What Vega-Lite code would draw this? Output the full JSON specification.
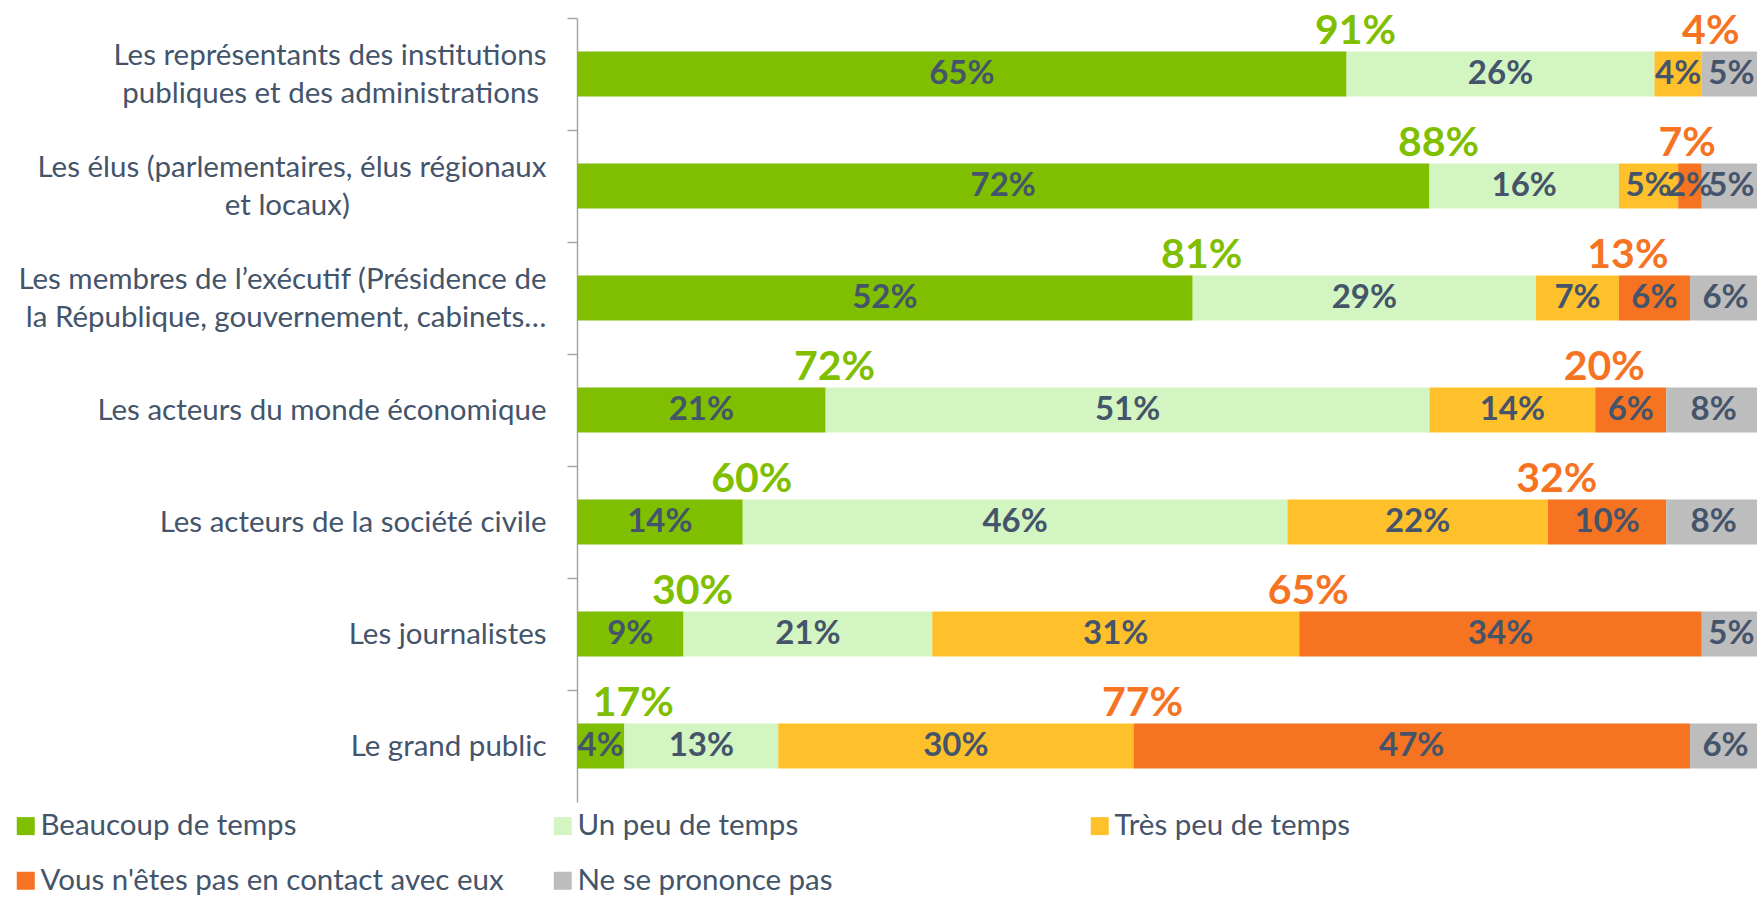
{
  "$schema": "https://vega.github.io/schema/vega-lite/v6.json",
  "width": 1184,
  "height": 784,
  "autosize": {"type": "none"},
  "padding": {"left": 577, "top": 18, "right": 0, "bottom": 95},
  "background": "white",
  "config": {
    "view": {"stroke": null},
    "font": "Lato",
    "legend": {
      "orient": "none",
      "legendX": -566,
      "legendY": 793,
      "direction": "horizontal",
      "columns": 3,
      "gridAlign": "all",
      "columnPadding": 44,
      "rowPadding": 24,
      "symbolType": "square",
      "symbolSize": 324,
      "symbolStrokeWidth": 0,
      "symbolOpacity": 1,
      "labelFontSize": 29.5,
      "labelFont": "Lato",
      "labelColor": "#44546A",
      "labelLimit": 0,
      "labelOffset": 0,
      "title": null
    }
  },
  "datasets": {
    "seg": [
      {"cat": "Les représentants des institutions\npubliques et des administrations", "resp": "Beaucoup de temps", "value": 65},
      {"cat": "Les représentants des institutions\npubliques et des administrations", "resp": "Un peu de temps", "value": 26},
      {"cat": "Les représentants des institutions\npubliques et des administrations", "resp": "Très peu de temps", "value": 4},
      {"cat": "Les représentants des institutions\npubliques et des administrations", "resp": "Vous n'êtes pas en contact avec eux", "value": 0},
      {"cat": "Les représentants des institutions\npubliques et des administrations", "resp": "Ne se prononce pas", "value": 5},
      {"cat": "Les élus (parlementaires, élus régionaux\net locaux)", "resp": "Beaucoup de temps", "value": 72},
      {"cat": "Les élus (parlementaires, élus régionaux\net locaux)", "resp": "Un peu de temps", "value": 16},
      {"cat": "Les élus (parlementaires, élus régionaux\net locaux)", "resp": "Très peu de temps", "value": 5},
      {"cat": "Les élus (parlementaires, élus régionaux\net locaux)", "resp": "Vous n'êtes pas en contact avec eux", "value": 2},
      {"cat": "Les élus (parlementaires, élus régionaux\net locaux)", "resp": "Ne se prononce pas", "value": 5},
      {"cat": "Les membres de l’exécutif (Présidence de\nla République, gouvernement, cabinets…", "resp": "Beaucoup de temps", "value": 52},
      {"cat": "Les membres de l’exécutif (Présidence de\nla République, gouvernement, cabinets…", "resp": "Un peu de temps", "value": 29},
      {"cat": "Les membres de l’exécutif (Présidence de\nla République, gouvernement, cabinets…", "resp": "Très peu de temps", "value": 7},
      {"cat": "Les membres de l’exécutif (Présidence de\nla République, gouvernement, cabinets…", "resp": "Vous n'êtes pas en contact avec eux", "value": 6},
      {"cat": "Les membres de l’exécutif (Présidence de\nla République, gouvernement, cabinets…", "resp": "Ne se prononce pas", "value": 6},
      {"cat": "Les acteurs du monde économique", "resp": "Beaucoup de temps", "value": 21},
      {"cat": "Les acteurs du monde économique", "resp": "Un peu de temps", "value": 51},
      {"cat": "Les acteurs du monde économique", "resp": "Très peu de temps", "value": 14},
      {"cat": "Les acteurs du monde économique", "resp": "Vous n'êtes pas en contact avec eux", "value": 6},
      {"cat": "Les acteurs du monde économique", "resp": "Ne se prononce pas", "value": 8},
      {"cat": "Les acteurs de la société civile", "resp": "Beaucoup de temps", "value": 14},
      {"cat": "Les acteurs de la société civile", "resp": "Un peu de temps", "value": 46},
      {"cat": "Les acteurs de la société civile", "resp": "Très peu de temps", "value": 22},
      {"cat": "Les acteurs de la société civile", "resp": "Vous n'êtes pas en contact avec eux", "value": 10},
      {"cat": "Les acteurs de la société civile", "resp": "Ne se prononce pas", "value": 8},
      {"cat": "Les journalistes", "resp": "Beaucoup de temps", "value": 9},
      {"cat": "Les journalistes", "resp": "Un peu de temps", "value": 21},
      {"cat": "Les journalistes", "resp": "Très peu de temps", "value": 31},
      {"cat": "Les journalistes", "resp": "Vous n'êtes pas en contact avec eux", "value": 34},
      {"cat": "Les journalistes", "resp": "Ne se prononce pas", "value": 5},
      {"cat": "Le grand public", "resp": "Beaucoup de temps", "value": 4},
      {"cat": "Le grand public", "resp": "Un peu de temps", "value": 13},
      {"cat": "Le grand public", "resp": "Très peu de temps", "value": 30},
      {"cat": "Le grand public", "resp": "Vous n'êtes pas en contact avec eux", "value": 47},
      {"cat": "Le grand public", "resp": "Ne se prononce pas", "value": 6}
    ],
    "tot": [
      {"cat": "Les représentants des institutions\npubliques et des administrations", "pos": 91, "neg": 4},
      {"cat": "Les élus (parlementaires, élus régionaux\net locaux)", "pos": 88, "neg": 7},
      {"cat": "Les membres de l’exécutif (Présidence de\nla République, gouvernement, cabinets…", "pos": 81, "neg": 13},
      {"cat": "Les acteurs du monde économique", "pos": 72, "neg": 20},
      {"cat": "Les acteurs de la société civile", "pos": 60, "neg": 32},
      {"cat": "Les journalistes", "pos": 30, "neg": 65},
      {"cat": "Le grand public", "pos": 17, "neg": 77}
    ]
  },
  "data": {"name": "seg"},
  "transform": [
    {"calculate": "indexof(['Beaucoup de temps','Un peu de temps','Très peu de temps',\"Vous n'êtes pas en contact avec eux\",'Ne se prononce pas'], datum.resp)", "as": "k"},
    {"stack": "value", "groupby": ["cat"], "sort": [{"field": "k", "order": "ascending"}], "as": ["x0", "x1"]},
    {"calculate": "(datum.x0 + datum.x1) / 2", "as": "mid"},
    {"calculate": "datum.value + '%'", "as": "vlabel"}
  ],
  "encoding": {
    "y": {
      "field": "cat",
      "type": "nominal",
      "sort": null,
      "scale": {"paddingInner": 0.6, "paddingOuter": 0.3},
      "axis": {
        "title": null,
        "labelExpr": "indexof(datum.label, 'et locaux') >= 0 ? [split(datum.label, '\\n')[0], split(datum.label, '\\n')[1] + '\u2003\u2003\u2003\u2003\u2003\u2003\u2003\u2003\u2005\u2005\u2006\u2060'] : indexof(datum.label, 'administrations') >= 0 ? [split(datum.label, '\\n')[0], split(datum.label, '\\n')[1] + '\u2005\u2060'] : split(datum.label, '\\n')",
        "labelBaseline": {"condition": {"test": "indexof(datum.value, '\\n') >= 0", "value": "line-bottom"}, "value": "middle"},
        "labelFont": "Lato",
        "labelFontSize": 29.5,
        "labelColor": "#44546A",
        "labelLineHeight": 38,
        "labelPadding": 21,
        "labelLimit": 0,
        "labelOffset": 56,
        "domainColor": "#A6A6A6",
        "domainWidth": 1.5,
        "ticks": true,
        "tickOffset": -56,
        "tickColor": "#A6A6A6",
        "tickWidth": 1.5,
        "tickSize": 10
      }
    }
  },
  "layer": [
    {
      "mark": {"type": "bar"},
      "encoding": {
        "x": {"field": "x0", "type": "quantitative", "scale": {"domain": [0, 100], "nice": false}, "axis": null},
        "x2": {"field": "x1"},
        "color": {
          "field": "resp",
          "type": "nominal",
          "scale": {
            "domain": ["Beaucoup de temps", "Un peu de temps", "Très peu de temps", "Vous n'êtes pas en contact avec eux", "Ne se prononce pas"],
            "range": ["#7FBF00", "#D3F5C1", "#FFC12B", "#F57321", "#BDBDBD"]
          },
          "legend": {}
        }
      }
    },
    {
      "transform": [{"filter": "datum.value > 0"}],
      "mark": {"type": "text", "font": "Lato", "fontWeight": "bold", "fontSize": 33, "color": "#44546A", "align": "center", "baseline": "middle"},
      "encoding": {
        "x": {"field": "mid", "type": "quantitative"},
        "text": {"field": "vlabel"}
      }
    },
    {
      "transform": [
        {"filter": "datum.k == 0"},
        {"lookup": "cat", "from": {"data": {"name": "tot"}, "key": "cat", "fields": ["pos", "neg"]}},
        {"calculate": "datum.pos + '%'", "as": "poslabel"}
      ],
      "mark": {"type": "text", "font": "Lato", "fontWeight": "bold", "fontSize": 41, "color": "#7FBF00", "align": "center", "baseline": "middle", "dx": 9, "dy": -42},
      "encoding": {
        "x": {"field": "x1", "type": "quantitative"},
        "text": {"field": "poslabel"}
      }
    },
    {
      "transform": [
        {"filter": "datum.k == 3"},
        {"lookup": "cat", "from": {"data": {"name": "tot"}, "key": "cat", "fields": ["pos", "neg"]}},
        {"calculate": "datum.neg + '%'", "as": "neglabel"}
      ],
      "mark": {"type": "text", "font": "Lato", "fontWeight": "bold", "fontSize": 41, "color": "#F57321", "align": "center", "baseline": "middle", "dx": 9, "dy": -42},
      "encoding": {
        "x": {"field": "x0", "type": "quantitative"},
        "text": {"field": "neglabel"}
      }
    }
  ]
}
